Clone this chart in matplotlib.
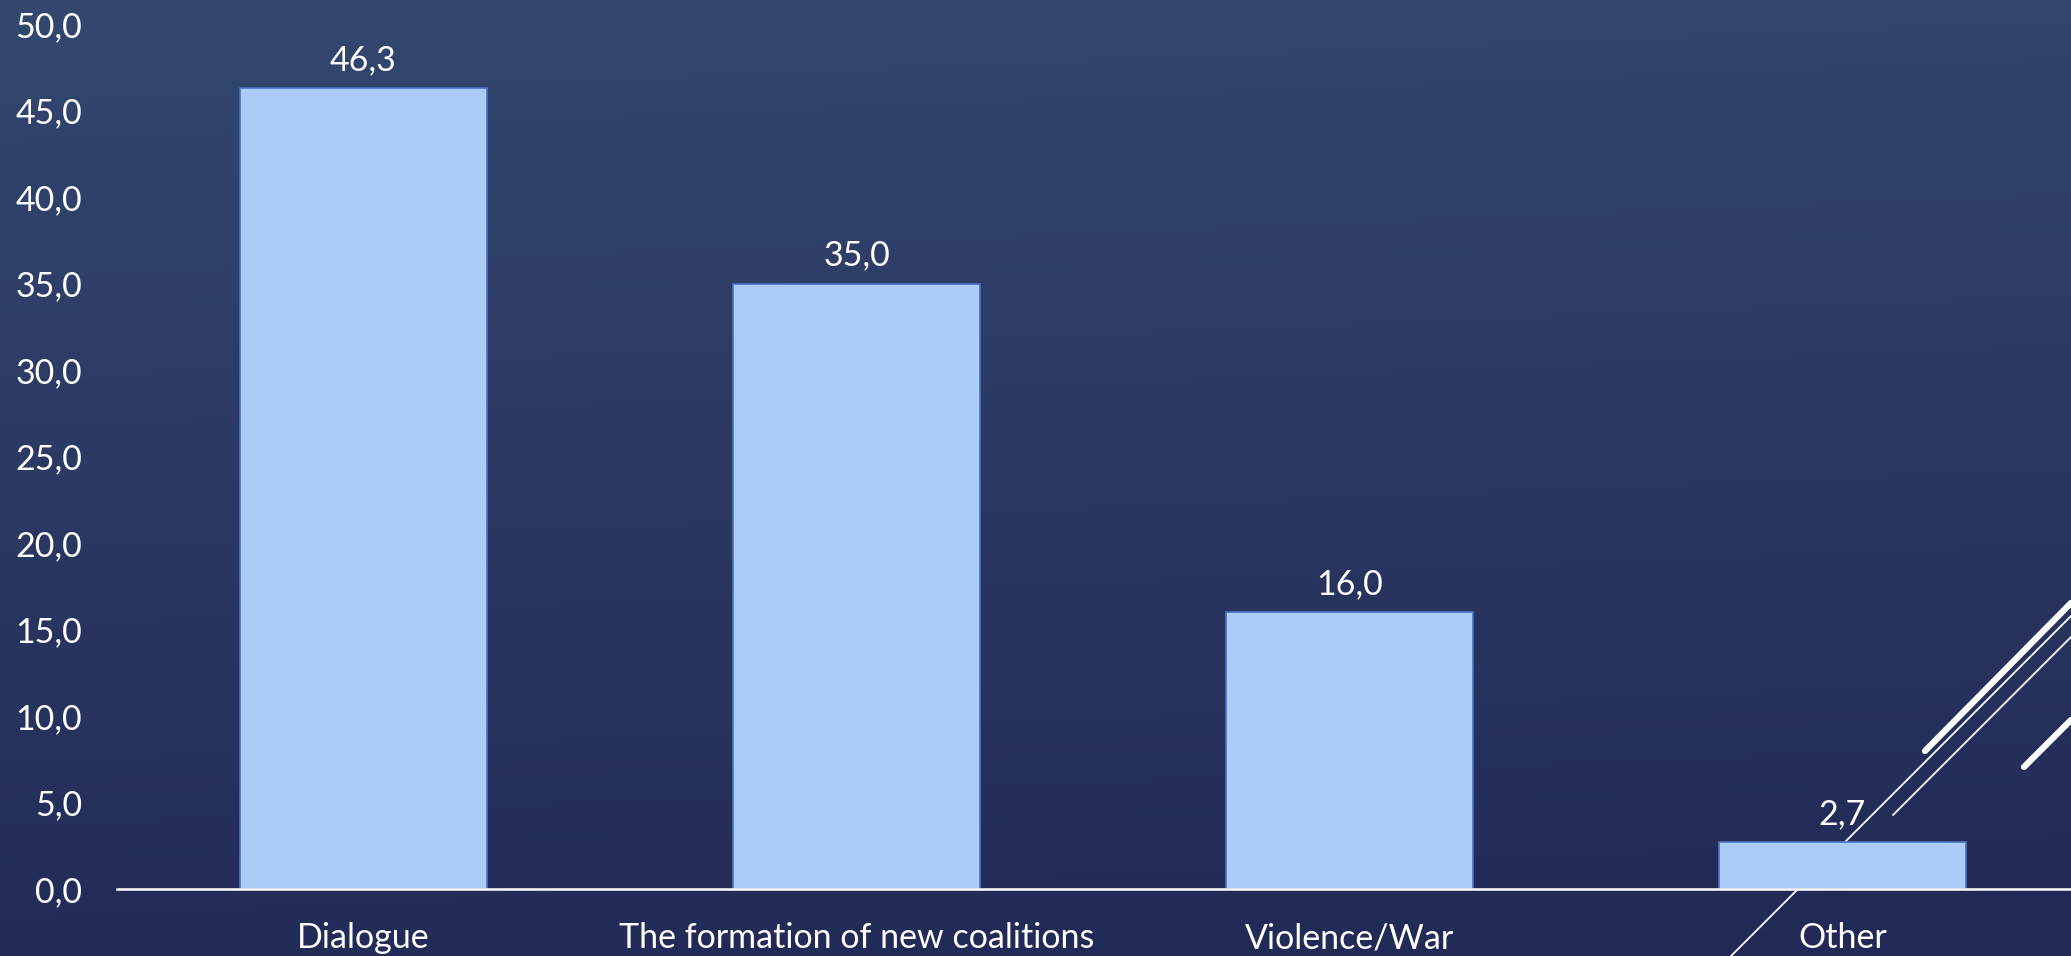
import numpy as np
import matplotlib
matplotlib.use("Agg")
import matplotlib.pyplot as plt
from matplotlib.lines import Line2D

# data
categories = ["Dialogue", "The formation of new coalitions", "Violence/War", "Other"]
values = [46.3, 35.0, 16.0, 2.7]
y_ticks = [0, 5, 10, 15, 20, 25, 30, 35, 40, 45, 50]

W, H = 2071, 956
plt.rcParams['font.family'] = ['Lato', 'DejaVu Sans']

fig = plt.figure(figsize=(W / 100, H / 100), dpi=100)

# background gradient (dark navy, a bit lighter at the top)
bg = fig.add_axes([0, 0, 1, 1], zorder=-5)
yy, xx = np.mgrid[0:1:200j, 0:1:400j]
t = np.clip(yy * 0.92 + xx * 0.08, 0, 1)  # 0 at top, 1 at bottom
top = np.array([0x33, 0x47, 0x6f]) / 255
bot = np.array([0x22, 0x29, 0x56]) / 255
img = top[None, None, :] * (1 - t[..., None]) + bot[None, None, :] * t[..., None]
bg.imshow(img, extent=[0, W, H, 0], aspect='auto', interpolation='bilinear')
bg.set_xlim(0, W)
bg.set_ylim(H, 0)
bg.axis('off')

# decorative diagonal strokes (pixel coords, y down)
deco = [
    ((1731, 956), (2071, 616), 1.3),
    ((1893, 815), (2071, 637), 1.3),
    ((1925, 751), (2071, 603), 4.5),
    ((2024, 767), (2071, 720), 4.5),
]
for (x0, y0), (x1, y1), lw in deco:
    bg.add_line(Line2D([x0, x1], [y0, y1], color='white', lw=lw,
                       solid_capstyle='round'))

# main chart
ax = fig.add_axes([117 / W, (H - 889) / H, (2089 - 117) / W, (889 - 24) / H])
ax.patch.set_alpha(0)
x = np.arange(len(categories))
bars = ax.bar(x, values, width=0.5, color='#adcbf7', edgecolor='#4a72c0', linewidth=1.2, zorder=3)
ax.set_xlim(-0.5, len(categories) - 0.5)
ax.set_ylim(0, 50)
ax.set_yticks(y_ticks)
ax.set_yticklabels([("%.1f" % v).replace('.', ',') for v in y_ticks])
ax.set_xticks(x)
ax.set_xticklabels(categories)
ax.tick_params(axis='both', length=0, colors='white', labelsize=24.5)
ax.tick_params(axis='y', pad=25)
ax.tick_params(axis='x', pad=24)
for s in ['top', 'right', 'left']:
    ax.spines[s].set_visible(False)
ax.spines['bottom'].set_color('white')
ax.spines['bottom'].set_linewidth(1.8)
ax.spines['bottom'].set_zorder(4)

for b, v in zip(bars, values):
    ax.annotate(("%.1f" % v).replace('.', ','), (b.get_x() + b.get_width() / 2, v),
                xytext=(0, 28), textcoords='offset pixels', ha='center', va='center',
                color='white', fontsize=24.5)

fig.savefig("out.png", dpi=100)
